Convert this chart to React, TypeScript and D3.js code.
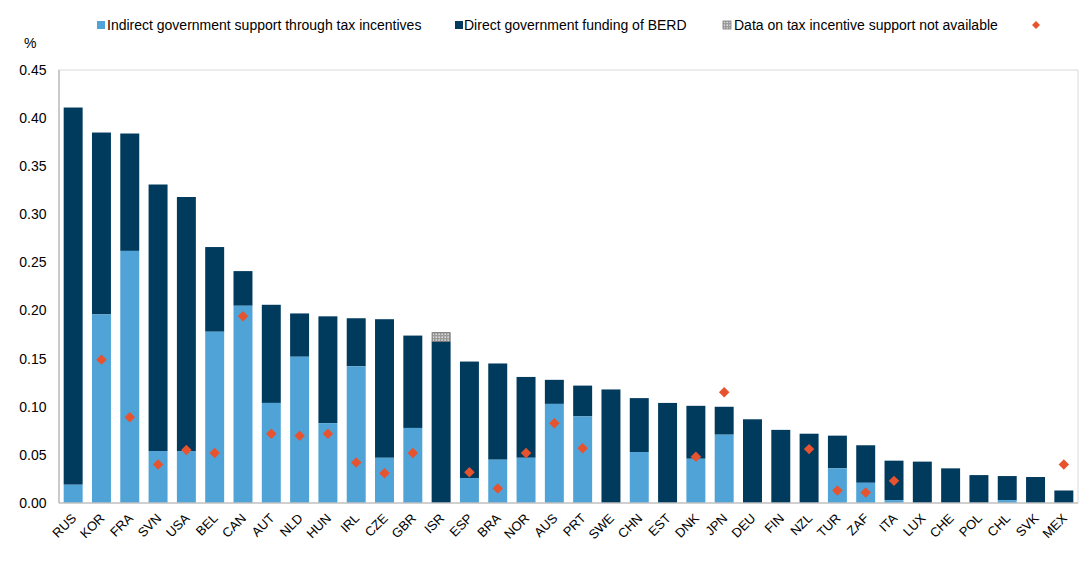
import React from "react";
import * as d3 from "d3";

const countries = ["RUS","KOR","FRA","SVN","USA","BEL","CAN","AUT","NLD","HUN","IRL","CZE","GBR","ISR","ESP","BRA","NOR","AUS","PRT","SWE","CHN","EST","DNK","JPN","DEU","FIN","NZL","TUR","ZAF","ITA","LUX","CHE","POL","CHL","SVK","MEX"];
const taxSupport = [0.019,0.196,0.262,0.054,0.054,0.178,0.205,0.104,0.152,0.083,0.142,0.047,0.078,0,0.026,0.045,0.047,0.103,0.090,0,0.053,0,0.046,0.071,0,0,0,0.036,0.021,0.003,0,0,0,0.003,0,0];
const totalSupport = [0.411,0.385,0.384,0.331,0.318,0.266,0.241,0.206,0.197,0.194,0.192,0.191,0.174,0.168,0.147,0.145,0.131,0.128,0.122,0.118,0.109,0.104,0.101,0.100,0.087,0.076,0.072,0.070,0.060,0.044,0.043,0.036,0.029,0.028,0.027,0.013];
const notAvailableTop: (number | null)[] = countries.map(c => (c === "ISR" ? 0.177 : null));
const diamonds: (number | null)[] = [null,0.149,0.089,0.040,0.055,0.052,0.194,0.072,0.070,0.072,0.042,0.031,0.052,null,0.032,0.015,0.052,0.083,0.057,null,null,null,0.048,0.115,null,null,0.056,0.013,0.011,0.023,null,null,null,null,null,0.040];
const yTicks = [0,0.05,0.1,0.15,0.2,0.25,0.3,0.35,0.4,0.45];
const legendLabels = ["Indirect government support through tax incentives","Direct government funding of BERD","Data on tax incentive support not available"];

const W = 1091, H = 564;
const left = 59, right = 1078, top = 70, bottom = 503;
const LIGHT = "#4FA3D6";
const DARK = "#003A5D";
const RED = "#E8532F";
const AXIS = "#B4B4B4";
const FONT = "'Liberation Sans', Arial, sans-serif";

export default function App() {
  const x = d3.scaleBand<string>().domain(countries).range([left, right]).paddingInner(0.33).paddingOuter(0.165);
  const y = d3.scaleLinear().domain([0, 0.45]).range([bottom, top]);
  const bw = x.bandwidth();
  const diamond = d3.symbol().type(d3.symbolDiamond2).size(70)();
  const legDiamond = d3.symbol().type(d3.symbolDiamond2).size(40)();

  return (
    <svg width={W} height={H} style={{ position: "absolute", left: 0, top: 0 }} fontFamily={FONT}>
      <defs>
        <pattern id="hatch" width="3" height="3" patternUnits="userSpaceOnUse">
          <rect width="3" height="3" fill="#9a9a9a" />
          <rect x="0.5" y="0.5" width="1.3" height="1.3" fill="#ffffff" />
        </pattern>
      </defs>
      <rect x={0} y={0} width={W} height={H} fill="#fff" />
      {/* Legend */}
      <g fontSize={14} fill="#000">
        <rect x={97} y={21} width={8} height={8} fill={LIGHT} />
        <text x={107} y={30}>{legendLabels[0]}</text>
        <rect x={455} y={21} width={8} height={8} fill={DARK} />
        <text x={464} y={30}>{legendLabels[1]}</text>
        <rect x={723} y={21} width={8} height={8} fill="url(#hatch)" stroke="#777" strokeWidth={0.8} />
        <text x={734} y={30}>{legendLabels[2]}</text>
        <path d={legDiamond} transform={`translate(1036,25)`} fill={RED} />
      </g>
      <text x={24} y={48} fontSize={14}>%</text>
      {/* Y ticks */}
      {yTicks.map(t => (
        <text key={t} x={46.5} y={y(t)} dy="0.35em" textAnchor="end" fontSize={14} fill="#000">
          {d3.format(".2f")(t)}
        </text>
      ))}
      {/* Bars */}
      {countries.map((c, i) => {
        const x0 = x(c)!;
        const tax = taxSupport[i];
        const tot = totalSupport[i];
        const na = notAvailableTop[i];
        return (
          <g key={c}>
            <rect x={x0} y={y(tot)} width={bw} height={y(tax) - y(tot)} fill={DARK} />
            {tax > 0 && <rect x={x0} y={y(tax)} width={bw} height={y(0) - y(tax)} fill={LIGHT} />}
            {na !== null && (
              <rect x={x0 + 0.5} y={y(na)} width={bw - 1} height={y(tot) - y(na)} fill="url(#hatch)" stroke="#777" strokeWidth={1} />
            )}
          </g>
        );
      })}
      {/* Frame */}
      <rect x={left} y={top} width={right - left} height={bottom - top} fill="none" stroke="#D9D9D9" strokeWidth={1} />
      <line x1={left} x2={left} y1={top} y2={bottom} stroke={AXIS} strokeWidth={1.2} />
      <line x1={left} x2={right} y1={bottom} y2={bottom} stroke={AXIS} strokeWidth={1.2} />
      {/* Diamonds */}
      {countries.map((c, i) => {
        const v = diamonds[i];
        if (v === null) return null;
        return <path key={c} d={diamond} transform={`translate(${x(c)! + bw / 2},${y(v)})`} fill={RED} />;
      })}
      {/* X labels */}
      {countries.map(c => (
        <text key={c} transform={`translate(${x(c)! + bw / 2 + 4},519) rotate(-45)`} textAnchor="end" fontSize={13} fill="#000">
          {c}
        </text>
      ))}
    </svg>
  );
}
